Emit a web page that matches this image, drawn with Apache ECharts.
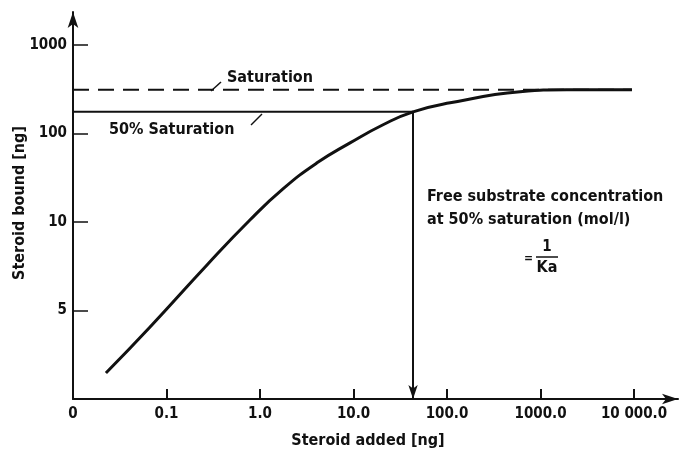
<!DOCTYPE html>
<html>
<head>
<meta charset="utf-8">
<title>Steroid binding</title>
<script src="https://cdn.jsdelivr.net/npm/echarts@6/dist/echarts.min.js"></script>
<style>
  html, body { margin: 0; padding: 0; background: #fff; }
  #chart { width: 694px; height: 455px; }
</style>
</head>
<body>
<div id="chart"></div>
<script>
// tick values as printed on the figure
const xTickValues = [0.01, 0.1, 1, 10, 100, 1000, 10000];
const xTickLabels = ['0', '0.1', '1.0', '10.0', '100.0', '1000.0', '10 000.0'];
const yTickValues = [0, 5, 10, 100, 1000];
const yTickLabels = ['0', '5', '10', '100', '1000'];

// binding curve (ng added, ng bound)
const curveX = [0.0225, 0.0667, 0.271, 0.78, 1.76, 4.07, 9.18, 20.7, 43.3, 108, 604, 1907, 9500];
const curveY = [1.47, 4.07, 7.57, 10.5, 23.6, 46.4, 78, 125, 175, 221, 294, 310, 310];

const saturation = 310;
const halfSaturation = 175;
const halfSatX = 43.3;
const lineStartX = 0.01;
const satEndX = 9500;

const FONT = "'DejaVu Sans Condensed', 'DejaVu Sans', sans-serif";
const INK = '#111';
const TEXT = 'bold 16px ' + FONT;

// x axis is one decade per tick, starting at the "0" tick
function xPos(v) {
  return Math.log10(v) - Math.log10(xTickValues[0]);
}
// y axis: ticks are evenly spaced, linear below 10, log above
function yPos(v) {
  for (let i = 0; i < yTickValues.length - 1; i++) {
    const a = yTickValues[i], b = yTickValues[i + 1];
    if (v <= b || i === yTickValues.length - 2) {
      if (a >= 10) return i + Math.log10(v / a) / Math.log10(b / a);
      return i + (v - a) / (b - a);
    }
  }
}

const curveData = curveX.map((x, i) => [xPos(x), yPos(curveY[i])]);
const satData = [[xPos(lineStartX), yPos(saturation)], [xPos(satEndX), yPos(saturation)]];
const halfData = [[xPos(lineStartX), yPos(halfSaturation)], [xPos(halfSatX), yPos(halfSaturation)]];

const myChart = echarts.init(document.getElementById('chart'));

const option = {
  backgroundColor: '#fff',
  animation: false,
  grid: { left: 73, right: 16, top: 12, bottom: 56 },
  xAxis: {
    type: 'value',
    min: 0,
    max: 6.47,
    splitLine: { show: false },
    axisLine: {
      lineStyle: { color: INK, width: 2 },
      symbol: ['none', 'arrow'],
      symbolSize: [8, 16]
    },
    axisTick: {
      inside: true,
      length: 10,
      customValues: [1, 2, 3, 4, 5, 6],
      lineStyle: { color: INK, width: 2 }
    },
    axisLabel: {
      customValues: [0, 1, 2, 3, 4, 5, 6],
      color: INK,
      fontFamily: FONT,
      fontWeight: 'bold',
      fontSize: 15,
      margin: 8,
      formatter: v => xTickLabels[Math.round(v)]
    }
  },
  yAxis: {
    type: 'value',
    min: 0,
    max: 4.37,
    splitLine: { show: false },
    axisLine: {
      lineStyle: { color: INK, width: 2 },
      symbol: ['none', 'arrow'],
      symbolSize: [8, 16]
    },
    axisTick: {
      inside: true,
      length: 15,
      customValues: [1, 2, 3, 4],
      lineStyle: { color: INK, width: 1.5 }
    },
    axisLabel: {
      customValues: [1, 2, 3, 4],
      color: INK,
      fontFamily: FONT,
      fontWeight: 'bold',
      fontSize: 15,
      margin: 6,
      formatter: v => yTickLabels[Math.round(v)]
    }
  },
  series: [
    {
      type: 'line',
      data: curveData,
      smooth: 0.5,
      symbol: 'none',
      lineStyle: { color: INK, width: 3 }
    },
    {
      type: 'line',
      data: satData,
      symbol: 'none',
      lineStyle: { color: INK, width: 2, type: [16, 9] }
    },
    {
      type: 'line',
      data: halfData,
      symbol: 'none',
      lineStyle: { color: INK, width: 2 },
      markLine: {
        silent: true,
        symbol: ['none', 'arrow'],
        symbolSize: [7, 14],
        label: { show: false },
        lineStyle: { color: INK, width: 2, type: 'solid' },
        data: [[
          { coord: [xPos(halfSatX), yPos(halfSaturation)] },
          { coord: [xPos(halfSatX), 0] }
        ]]
      }
    }
  ],
  graphic: [
    // axis titles
    {
      type: 'text', x: 20, y: 203, rotation: Math.PI / 2,
      style: { text: 'Steroid bound [ng]', fill: INK, font: TEXT, align: 'center', verticalAlign: 'middle' }
    },
    {
      type: 'text', x: 368, y: 441,
      style: { text: 'Steroid added [ng]', fill: INK, font: TEXT, align: 'center', verticalAlign: 'middle' }
    },
    // line labels with their leaders
    {
      type: 'text', x: 227, y: 78,
      style: { text: 'Saturation', fill: INK, font: TEXT, verticalAlign: 'middle' }
    },
    { type: 'line', shape: { x1: 211, y1: 91, x2: 221, y2: 82 }, style: { stroke: INK, lineWidth: 1.5 } },
    {
      type: 'text', x: 109, y: 130,
      style: { text: '50% Saturation', fill: INK, font: TEXT, verticalAlign: 'middle' }
    },
    { type: 'line', shape: { x1: 251, y1: 125, x2: 262, y2: 114 }, style: { stroke: INK, lineWidth: 1.5 } },
    // note about 1/Ka
    {
      type: 'text', x: 427, y: 197,
      style: { text: 'Free substrate concentration', fill: INK, font: TEXT, verticalAlign: 'middle' }
    },
    {
      type: 'text', x: 427, y: 220,
      style: { text: 'at 50% saturation (mol/l)', fill: INK, font: TEXT, verticalAlign: 'middle' }
    },
    {
      type: 'text', x: 533, y: 259,
      style: { text: '=', fill: INK, font: 'bold 12px ' + FONT, align: 'right', verticalAlign: 'middle' }
    },
    {
      type: 'text', x: 547, y: 247,
      style: { text: '1', fill: INK, font: 'bold 15px ' + FONT, align: 'center', verticalAlign: 'middle' }
    },
    { type: 'line', shape: { x1: 536, y1: 257, x2: 558, y2: 257 }, style: { stroke: INK, lineWidth: 1.5 } },
    {
      type: 'text', x: 547, y: 268,
      style: { text: 'Ka', fill: INK, font: TEXT, align: 'center', verticalAlign: 'middle' }
    }
  ]
};

myChart.setOption(option);
</script>
</body>
</html>
